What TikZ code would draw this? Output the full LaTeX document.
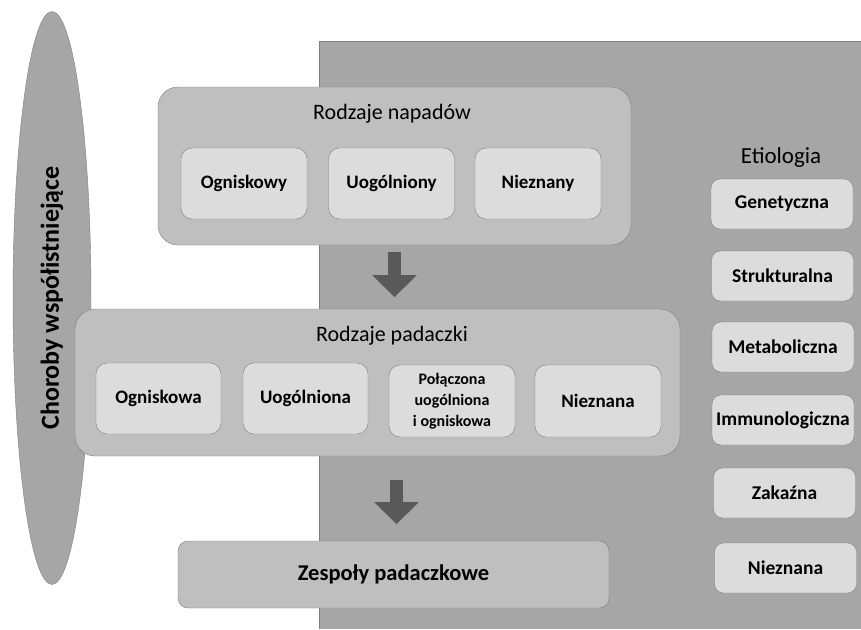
\documentclass[tikz,border=0pt]{standalone}
\usepackage{fontspec}
\setmainfont{Carlito}
\usetikzlibrary{calc, arrows.meta, shapes.geometric}
\definecolor{bggray}{HTML}{A6A6A6}
\definecolor{outgray}{HTML}{BFBFBF}
\definecolor{ingray}{HTML}{DCDCDC}
\definecolor{edgegray}{HTML}{7F7F7F}
\definecolor{arrgray}{HTML}{595959}

\begin{document}
\begin{tikzpicture}[x=1pt,y=-1pt,
  bigbox/.style={draw=edgegray,fill=outgray,rounded corners=20pt,inner sep=0pt},
  smallbox/.style={draw=edgegray,fill=ingray,rounded corners=11pt,inner sep=0pt,
    minimum width=126pt,minimum height=71pt,align=center,
    font=\fontsize{19}{21}\selectfont\bfseries},
  etiobox/.style={draw=edgegray,fill=ingray,rounded corners=9pt,inner sep=0pt,
    minimum width=142pt,minimum height=50pt,
    font=\fontsize{19.5}{21}\selectfont\bfseries},
  title/.style={font=\fontsize{22}{26}\selectfont},
  bigarrow/.style={draw=arrgray,line width=13pt,-{Triangle[width=43pt,length=22pt]}}]
\useasboundingbox (0,0) rectangle (861,629);
% Grey background of the etiology part
\fill[bggray] (319,41) rectangle (861,629);
\draw[edgegray] (861,41) -- (319,41) -- (319,629);
% Comorbidities
\node[ellipse,draw=edgegray,fill=bggray,minimum width=78pt,minimum height=573pt,inner sep=0pt]
  (choroby) at (52,298) {};
\node[rotate=90,font=\fontsize{26}{30}\selectfont\bfseries] at (choroby.center)
  {Choroby współistniejące};
% Seizure types
\node[bigbox,minimum width=473pt,minimum height=158pt] (napady) at (394.5,166) {};
\node[title] (napadytitle) at (392,114) {Rodzaje napadów};
\node[smallbox] (ogniskowy) at (244,183.5) {Ogniskowy};
\node[smallbox] (uogolniony) at (391.5,183.5) {Uogólniony};
\node[smallbox] (nieznany) at (538,183.5) {Nieznany};
% Epilepsy types
\node[bigbox,minimum width=605pt,minimum height=147pt] (padaczki) at (377.5,382.5) {};
\node[title] (padaczkititle) at (392,336) {Rodzaje padaczki};
\node[smallbox,minimum width=125pt] (ogniskowa) at (158.5,398.5) {Ogniskowa};
\node[smallbox,minimum width=125pt] (uogolniona) at (305.5,398.5) {Uogólniona};
\node[smallbox,minimum height=72pt,font=\fontsize{16}{21}\selectfont\bfseries]
  (polaczona) at (452,401) {Połączona\\uogólniona\\i ogniskowa};
\node[smallbox,minimum height=72pt] (nieznana) at (598,401) {Nieznana};
% Epilepsy syndromes
\node[bigbox,rounded corners=10pt,minimum width=431pt,minimum height=67pt,
  font=\fontsize{22.5}{26}\selectfont\bfseries] (zespoly) at (393.5,574.5) {Zespoły padaczkowe};
% Arrows between the levels
\draw[bigarrow] ($(napady.south)+(0,7)$) -- ++(0,45);
\draw[bigarrow] ($(padaczki.south)+(19,24)$) -- ++(0,44);
% Etiology
\node[font=\fontsize{23}{27}\selectfont] (etiologia) at (781,157) {Etiologia};
\node[etiobox] (genetyczna) at (782,204) {Genetyczna};
\node[etiobox] (strukturalna) at (782.5,276) {Strukturalna};
\node[etiobox] (metaboliczna) at (783,347) {Metaboliczna};
\node[etiobox] (immunologiczna) at (783,420) {Immunologiczna};
\node[etiobox] (zakazna) at (784.5,493) {Zakaźna};
\node[etiobox] (nieznanaet) at (785.5,568) {Nieznana};
\end{tikzpicture}
\end{document}
